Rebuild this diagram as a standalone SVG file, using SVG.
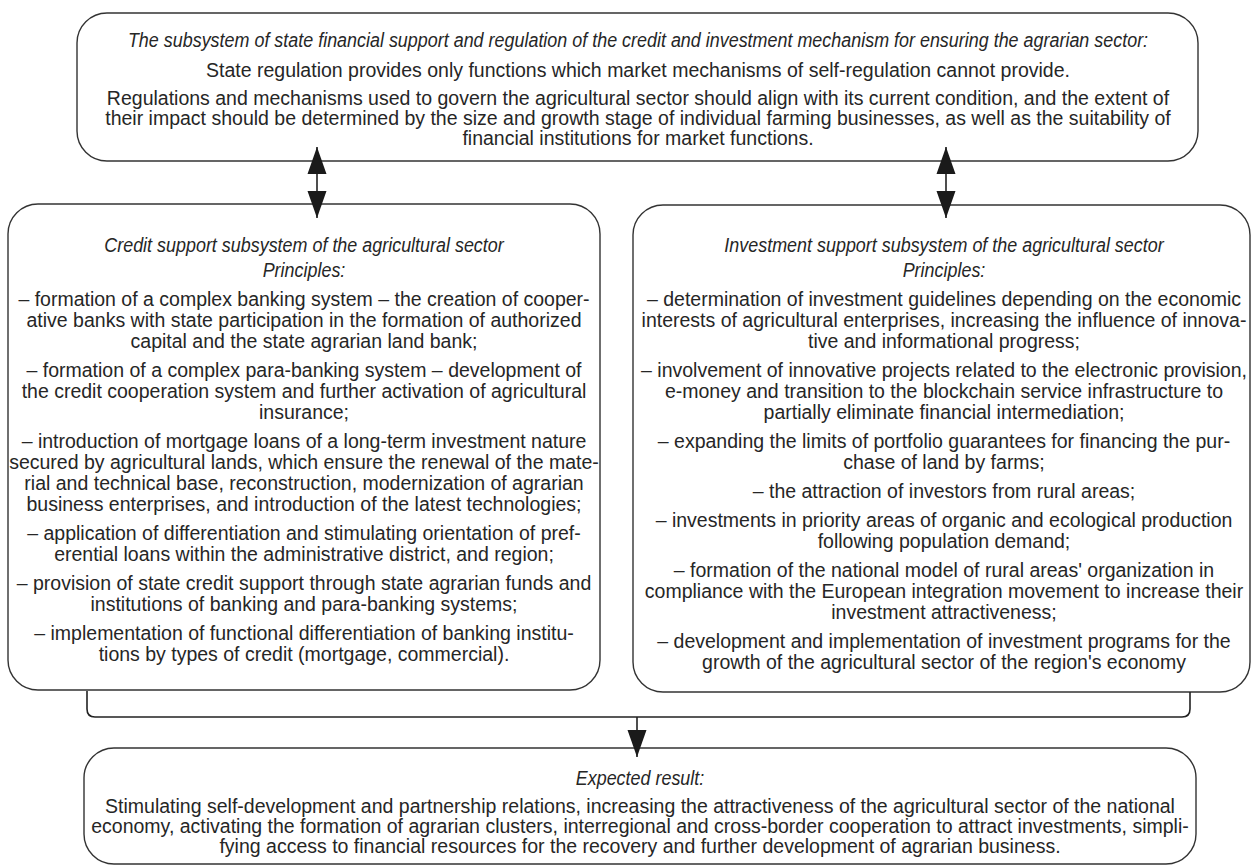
<svg xmlns="http://www.w3.org/2000/svg" width="1252" height="868" viewBox="0 0 1252 868">
  <defs>
    <style>
      .box { fill: #ffffff; stroke: #333333; stroke-width: 1.4; }
      .t { font-family: "Liberation Sans", Arial, sans-serif; font-size: 19.5px; fill: #262626; text-anchor: middle; }
      .i { font-style: italic; }
      .conn { fill: none; stroke: #222222; stroke-width: 1.6; }
    </style>
    <marker id="head" markerUnits="userSpaceOnUse" markerWidth="28" markerHeight="20" refX="27" refY="10" orient="auto-start-reverse" viewBox="0 0 28 20">
      <path d="M0,0.5 L27,10 L0,19.5 Z" fill="#1a1a1a"/>
    </marker>
  </defs>
  <rect width="1252" height="868" fill="#ffffff"/>

  <g id="node-state">
    <rect class="box" x="77" y="13" width="1121" height="148" rx="30" ry="30"/>
    <text class="t i" transform="translate(638,0) scale(0.92,1)" x="0" y="47">The subsystem of state financial support and regulation of the credit and investment mechanism for ensuring the agrarian sector:</text>
    <text class="t" x="638" y="77">State regulation provides only functions which market mechanisms of self-regulation cannot provide.</text>
    <text class="t" x="638" y="105">Regulations and mechanisms used to govern the agricultural sector should align with its current condition, and the extent of</text>
    <text class="t" x="638" y="125">their impact should be determined by the size and growth stage of individual farming businesses, as well as the suitability of</text>
    <text class="t" x="638" y="145">financial institutions for market functions.</text>
  </g>

  <g id="node-credit">
    <rect class="box" x="8" y="204" width="592" height="486" rx="30" ry="30"/>
    <text class="t i" transform="translate(304,0) scale(0.92,1)" x="0" y="252">Credit support subsystem of the agricultural sector</text>
    <text class="t i" transform="translate(304,0) scale(0.92,1)" x="0" y="277">Principles:</text>
    <text class="t" x="304" y="306">– formation of a complex banking system – the creation of cooper-</text>
    <text class="t" x="304" y="327">ative banks with state participation in the formation of authorized</text>
    <text class="t" x="304" y="348">capital and the state agrarian land bank;</text>
    <text class="t" x="304" y="377">– formation of a complex para-banking system – development of</text>
    <text class="t" x="304" y="398">the credit cooperation system and further activation of agricultural</text>
    <text class="t" x="304" y="419">insurance;</text>
    <text class="t" x="304" y="448">– introduction of mortgage loans of a long-term investment nature</text>
    <text class="t" x="304" y="469">secured by agricultural lands, which ensure the renewal of the mate-</text>
    <text class="t" x="304" y="490">rial and technical base, reconstruction, modernization of agrarian</text>
    <text class="t" x="304" y="511">business enterprises, and introduction of the latest technologies;</text>
    <text class="t" x="304" y="540">– application of differentiation and stimulating orientation of pref-</text>
    <text class="t" x="304" y="561">erential loans within the administrative district, and region;</text>
    <text class="t" x="304" y="590">– provision of state credit support through state agrarian funds and</text>
    <text class="t" x="304" y="611">institutions of banking and para-banking systems;</text>
    <text class="t" x="304" y="640">– implementation of functional differentiation of banking institu-</text>
    <text class="t" x="304" y="661">tions by types of credit (mortgage, commercial).</text>
  </g>

  <g id="node-investment">
    <rect class="box" x="633" y="205" width="617" height="487" rx="30" ry="30"/>
    <text class="t i" transform="translate(944,0) scale(0.92,1)" x="0" y="252">Investment support subsystem of the agricultural sector</text>
    <text class="t i" transform="translate(944,0) scale(0.92,1)" x="0" y="277">Principles:</text>
    <text class="t" x="944" y="306">– determination of investment guidelines depending on the economic</text>
    <text class="t" x="944" y="327">interests of agricultural enterprises, increasing the influence of innova-</text>
    <text class="t" x="944" y="348">tive and informational progress;</text>
    <text class="t" x="944" y="377">– involvement of innovative projects related to the electronic provision,</text>
    <text class="t" x="944" y="398">e-money and transition to the blockchain service infrastructure to</text>
    <text class="t" x="944" y="419">partially eliminate financial intermediation;</text>
    <text class="t" x="944" y="448">– expanding the limits of portfolio guarantees for financing the pur-</text>
    <text class="t" x="944" y="469">chase of land by farms;</text>
    <text class="t" x="944" y="498">– the attraction of investors from rural areas;</text>
    <text class="t" x="944" y="527">– investments in priority areas of organic and ecological production</text>
    <text class="t" x="944" y="548">following population demand;</text>
    <text class="t" x="944" y="577">– formation of the national model of rural areas' organization in</text>
    <text class="t" x="944" y="598">compliance with the European integration movement to increase their</text>
    <text class="t" x="944" y="619">investment attractiveness;</text>
    <text class="t" x="944" y="648">– development and implementation of investment programs for the</text>
    <text class="t" x="944" y="669">growth of the agricultural sector of the region's economy</text>
  </g>

  <g id="node-result">
    <rect class="box" x="84" y="748" width="1112" height="116" rx="30" ry="30"/>
    <text class="t i" transform="translate(640,0) scale(0.92,1)" x="0" y="785">Expected result:</text>
    <text class="t" x="640" y="813">Stimulating self-development and partnership relations, increasing the attractiveness of the agricultural sector of the national</text>
    <text class="t" x="640" y="833">economy, activating the formation of agrarian clusters, interregional and cross-border cooperation to attract investments, simpli-</text>
    <text class="t" x="640" y="853">fying access to financial resources for the recovery and further development of agrarian business.</text>
  </g>

  <g id="connectors">
    <line class="conn" x1="317" y1="147" x2="317" y2="218" marker-start="url(#head)" marker-end="url(#head)"/>
    <line class="conn" x1="946" y1="147" x2="946" y2="218" marker-start="url(#head)" marker-end="url(#head)"/>
    <path class="conn" d="M87,691 V709 Q87,717 95,717 H1182 Q1190,717 1190,709 V692"/>
    <line class="conn" x1="637" y1="717" x2="637" y2="757" marker-end="url(#head)"/>
  </g>
</svg>
